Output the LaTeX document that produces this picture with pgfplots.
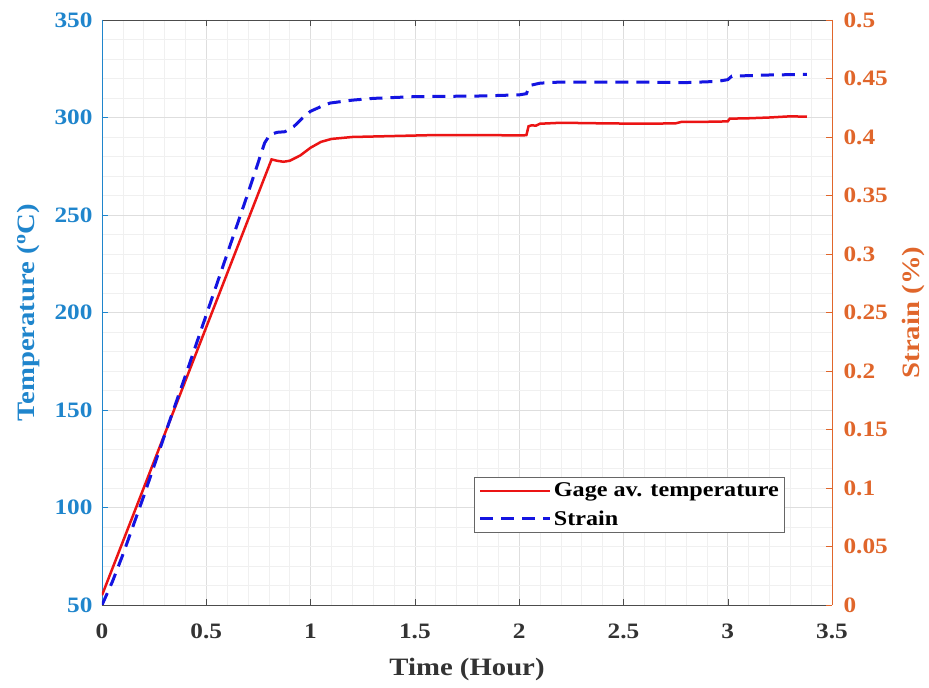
\documentclass[border=0pt]{standalone}
\usepackage{fontspec}
\setmainfont{Liberation Serif}[FakeStretch=1.15]
\usepackage{pgfplots}
\pgfplotsset{compat=1.18}
\definecolor{mblue}{rgb}{0.12,0.52,0.8}
\definecolor{morange}{rgb}{0.88,0.4,0.17}
\definecolor{redline}{RGB}{235,20,20}
\definecolor{blueline}{RGB}{20,20,225}
\pgfplotsset{
  base/.style={
    width=730pt, height=585pt, scale only axis,
    xmin=0, xmax=3.5,
    xtick={0,0.5,1,1.5,2,2.5,3,3.5},
    /pgf/number format/assume math mode=true,
    /pgf/number format/fixed,
    tick label style={font=\bfseries\fontsize{22}{26}\selectfont},
    major tick length=6pt, minor tick length=0pt, tick align=inside,
  }
}
\begin{document}
\begin{tikzpicture}
\useasboundingbox (-102pt,-83pt) rectangle (827pt,605pt);
\begin{axis}[base,
  ymin=50, ymax=350, ytick={50,100,150,200,250,300,350},
  minor x tick num=4, minor y tick num=4,
  grid=both,
  minor grid style={black!6, line width=0.5pt},
  major grid style={black!13, line width=0.6pt},
  axis x line*=box, axis y line*=left,
  x axis line style={black!70, line width=0.8pt},
  y axis line style={mblue, line width=0.8pt},
  xtick style={black!70}, ytick style={mblue},
  yticklabel style={mblue, xshift=-6pt},
  xticklabel style={black!80, yshift=-15pt},
  xlabel={Time (Hour)},
  ylabel={Temperature (\textsuperscript{o}C)},
  every axis y label/.style={at={(axis description cs:-0.101,0.5)}, rotate=90, anchor=center, mblue, font=\bfseries\fontsize{25}{30}\selectfont},
  every axis x label/.style={at={(axis description cs:0.5,-0.111)}, anchor=center, black!80, font=\bfseries\fontsize{25}{30}\selectfont},
]
\addplot[redline, line width=2.5pt] coordinates {
(0,55) (0.1,82.5) (0.2,110) (0.3,137.5) (0.4,165) (0.5,192.5) (0.6,220) (0.7,247.5)
(0.813,278.5) (0.84,277.8) (0.87,277.3) (0.9,277.8) (0.95,280.5) (1.0,284.5)
(1.05,287.5) (1.1,289) (1.2,290) (1.4,290.5) (1.6,291) (1.8,291) (2.02,290.8)
(2.035,291) (2.045,295.5) (2.06,296) (2.08,295.8) (2.1,296.8) (2.2,297.3)
(2.4,297) (2.6,296.8) (2.75,297) (2.78,297.8) (2.9,297.8) (3.0,298) (3.01,299.4)
(3.1,299.6) (3.2,300) (3.3,300.6) (3.38,300.4)
};
\end{axis}
\begin{axis}[base,
  ymin=0, ymax=0.5,
  ytick={0,0.05,0.1,0.15,0.2,0.25,0.3,0.35,0.4,0.45,0.5},
  yticklabel style={/pgf/number format/fixed, /pgf/number format/precision=2, morange, xshift=8pt},
  axis x line=none, axis y line*=right,
  y axis line style={morange, line width=0.8pt},
  ytick style={morange},
  ylabel={Strain (\%)},
  every axis y label/.style={at={(axis description cs:1.111,0.5)}, rotate=90, anchor=center, morange, font=\bfseries\fontsize{25}{30}\selectfont},
  legend style={at={(axis description cs:0.936,0.123)}, anchor=south east,
    draw=black!60, line width=1pt, fill=white,
    font=\bfseries\fontsize{21}{25}\selectfont, inner sep=4pt, row sep=8pt},
  legend cell align=left,
  legend image code/.code={\draw[#1] (0pt,0pt) -- (70pt,0pt);},
]
\addlegendimage{redline, line width=2.5pt}
\addlegendentry{Gage av. temperature}
\addplot[blueline, line width=3pt, dash pattern=on 13pt off 8pt] coordinates {
(0,0) (0.05,0.02) (0.1,0.043) (0.2,0.093) (0.3,0.145) (0.4,0.196) (0.5,0.248)
(0.6,0.300) (0.7,0.352) (0.78,0.395) (0.805,0.402) (0.84,0.404) (0.877,0.4045)
(0.92,0.409) (0.96,0.416) (1.0,0.422) (1.05,0.426) (1.093,0.429) (1.2,0.4315)
(1.3,0.433) (1.5,0.4345) (1.8,0.435) (2.0,0.436) (2.035,0.437) (2.05,0.444)
(2.1,0.446) (2.2,0.447) (2.5,0.447) (2.8,0.4465) (2.95,0.4475) (3.0,0.449)
(3.02,0.452) (3.2,0.453) (3.38,0.4535)
};
\addlegendentry{Strain}
\end{axis}
\end{tikzpicture}
\end{document}
